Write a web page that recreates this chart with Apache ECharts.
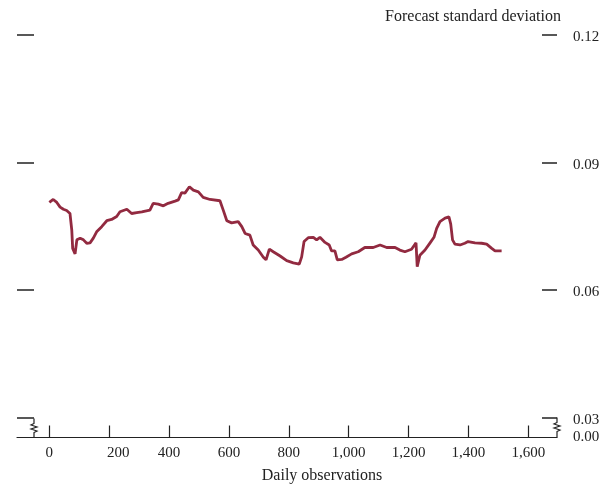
<!DOCTYPE html>
<html>
<head>
<meta charset="utf-8">
<script src="https://cdn.jsdelivr.net/npm/echarts@6/dist/echarts.min.js"></script>
<style>
  html, body { margin: 0; padding: 0; background: #fff; }
  #chart { width: 613px; height: 486px; }
</style>
</head>
<body>
<div id="chart"></div>
<script>
// daily observation index
const obsDays = [0, 13, 25, 36, 47, 58, 69, 75, 78, 86, 92, 103, 114, 125, 136, 147, 158, 175, 192, 208,
  225, 236, 259, 275, 292, 309, 336, 347, 364, 381, 397, 420, 431, 442, 453, 468, 481, 498, 514, 537,
  570, 581, 593, 609, 631, 643, 654, 670, 681, 698, 715, 724, 735, 748, 771, 793, 815, 835, 843, 851,
  865, 882, 893, 904, 921, 935, 943, 954, 962, 977, 991, 1010, 1032, 1054, 1082, 1105, 1127, 1155, 1171, 1188,
  1210, 1225, 1229, 1238, 1255, 1272, 1285, 1294, 1305, 1322, 1335, 1341, 1347, 1355, 1372, 1388, 1399, 1422, 1444, 1461,
  1478, 1489, 1511]
// forecast standard deviation
const forecastSd = [0.0806, 0.0813, 0.0806, 0.0795, 0.0790, 0.0787, 0.0780, 0.0741, 0.0698, 0.0685, 0.0718, 0.0722, 0.0718, 0.0710, 0.0711, 0.0722, 0.0737, 0.0749, 0.0763, 0.0766,
  0.0773, 0.0784, 0.0790, 0.0780, 0.0782, 0.0784, 0.0788, 0.0804, 0.0802, 0.0798, 0.0804, 0.0809, 0.0812, 0.0829, 0.0828, 0.0843, 0.0835, 0.0831, 0.0818, 0.0813,
  0.0810, 0.0788, 0.0763, 0.0758, 0.0761, 0.0749, 0.0733, 0.0729, 0.0706, 0.0694, 0.0677, 0.0671, 0.0696, 0.0690, 0.0680, 0.0669, 0.0664, 0.0661, 0.0678, 0.0714,
  0.0723, 0.0724, 0.0718, 0.0724, 0.0712, 0.0706, 0.0692, 0.0692, 0.0671, 0.0672, 0.0677, 0.0685, 0.0690, 0.0700, 0.0700, 0.0706, 0.0700, 0.0700, 0.0694, 0.0690,
  0.0696, 0.0711, 0.0655, 0.0682, 0.0694, 0.0711, 0.0724, 0.0745, 0.0761, 0.0769, 0.0772, 0.0755, 0.0718, 0.0708, 0.0706, 0.0710, 0.0714, 0.0711, 0.0710, 0.0708,
  0.0698, 0.0692, 0.0692]
const xTicks = [0, 200, 400, 600, 800, 1000, 1200, 1400, 1600]
const yBreakLabel = '0.00'
const yTitle = 'Forecast standard deviation'
const xTitle = 'Daily observations'

const FONT = '"Liberation Serif", "DejaVu Serif", serif'
const INK = '#222'
const LINE = '#922a40'
// grid box (px)
const G = { left: 17, right: 56, top: 35, bottom: 68.5 }
const W = 613, H = 486
const gx1 = W - G.right, gy1 = H - G.bottom
const axisY = gy1 + 20

const zig = (x, y0, y1) => [[x, y0], [x, y0 + 5], [x - 3, y0 + 6.5], [x + 3, y0 + 8.5], [x - 3, y0 + 10.5], [x + 3, y0 + 12.5], [x, y0 + 14], [x, y1]]

const option = {
  animation: false,
  grid: { left: G.left, right: G.right, top: G.top, bottom: G.bottom },
  xAxis: {
    type: 'value',
    min: -108,
    max: 1696,
    offset: 20,
    splitLine: { show: false },
    axisLine: { onZero: false, lineStyle: { color: INK, width: 1.2 } },
    axisTick: { inside: true, length: 12, customValues: xTicks, lineStyle: { color: INK, width: 1.2 } },
    axisLabel: {
      customValues: xTicks,
      margin: 8,
      color: INK,
      fontFamily: FONT,
      fontSize: 15,
      formatter: v => v === 200 ? '{s|200}' : v.toLocaleString('en-US'),
      rich: { s: { padding: [0, 0, 0, 18], fontFamily: FONT, fontSize: 15, color: INK } }
    }
  },
  yAxis: [
    {
      type: 'value', position: 'left', min: 0.03, max: 0.12, interval: 0.03,
      splitLine: { show: false },
      axisLine: { show: false, onZero: false },
      axisTick: { show: true, inside: true, length: 17, lineStyle: { color: INK, width: 1.5 } },
      axisLabel: { show: false }
    },
    {
      type: 'value', position: 'right', min: 0.03, max: 0.12, interval: 0.03,
      splitLine: { show: false },
      axisLine: { show: false, onZero: false },
      axisTick: { show: true, inside: true, length: 15, lineStyle: { color: INK, width: 1.5 } },
      axisLabel: {
        margin: 16, color: INK, fontFamily: FONT, fontSize: 15,
        formatter: v => '{d|' + v.toFixed(2) + '}',
        rich: { d: { padding: [5, 0, 0, 0], fontFamily: FONT, fontSize: 15, color: INK } }
      }
    }
  ],
  graphic: [
    { type: 'text', right: W - 561, top: 9, style: { text: yTitle, font: '16px ' + FONT, fill: INK } },
    { type: 'text', x: gx1 + 16, y: axisY, style: { text: yBreakLabel, font: '15px ' + FONT, fill: INK, verticalAlign: 'middle' } },
    { type: 'text', x: 322, y: 476, style: { text: xTitle, font: '16px ' + FONT, fill: INK, align: 'center', verticalAlign: 'middle' } },
    { type: 'polyline', shape: { points: zig(34, gy1 + 1, axisY) }, style: { stroke: INK, lineWidth: 1.2, fill: null } },
    { type: 'polyline', shape: { points: zig(gx1, gy1, axisY) }, style: { stroke: INK, lineWidth: 1.2, fill: null } }
  ],
  series: [{
    type: 'line',
    yAxisIndex: 1,
    symbol: 'none',
    data: obsDays.map((d, i) => [d, forecastSd[i]]),
    lineStyle: { color: LINE, width: 2.8 }
  }]
}

const chart = echarts.init(document.getElementById('chart'), null, { renderer: 'canvas' })
chart.setOption(option)
</script>
</body>
</html>
